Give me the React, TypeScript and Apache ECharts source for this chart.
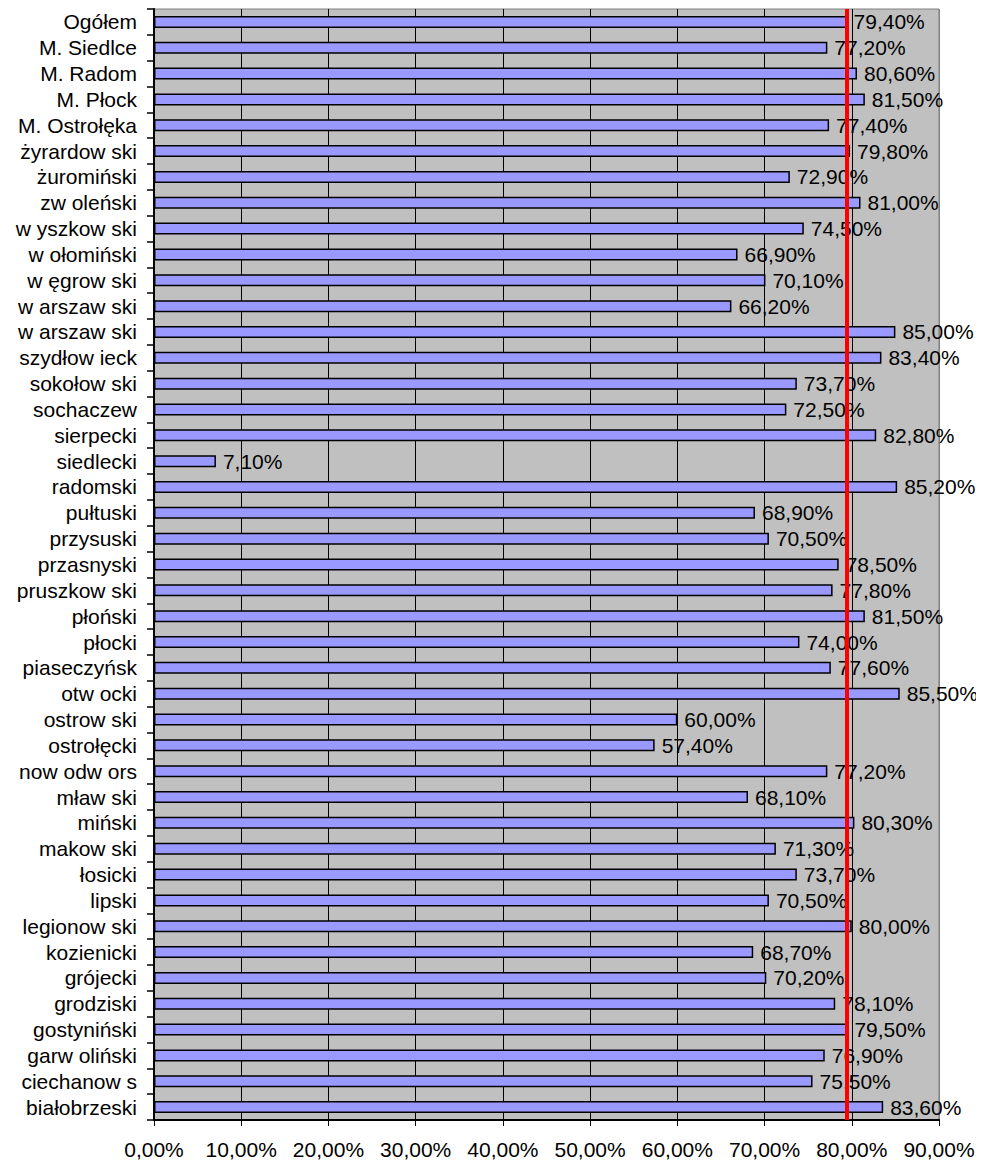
import React, { useEffect, useRef } from "react";
import * as echarts from "echarts";

const categories: string[] = [
  "Ogółem", "M. Siedlce", "M. Radom", "M. Płock", "M. Ostrołęka", "żyrardow ski", "żuromiński",
  "zw oleński", "w yszkow ski", "w ołomiński", "w ęgrow ski", "w arszaw ski", "w arszaw ski",
  "szydłow ieck", "sokołow ski", "sochaczew", "sierpecki", "siedlecki", "radomski", "pułtuski",
  "przysuski", "przasnyski", "pruszkow ski", "płoński", "płocki", "piaseczyńsk", "otw ocki",
  "ostrow ski", "ostrołęcki", "now odw ors", "mław ski", "miński", "makow ski", "łosicki",
  "lipski", "legionow ski", "kozienicki", "grójecki", "grodziski", "gostyniński", "garw oliński",
  "ciechanow s", "białobrzeski",
];

const values: number[] = [
  79.4, 77.2, 80.6, 81.5, 77.4, 79.8, 72.9,
  81.0, 74.5, 66.9, 70.1, 66.2, 85.0,
  83.4, 73.7, 72.5, 82.8, 7.1, 85.2, 68.9,
  70.5, 78.5, 77.8, 81.5, 74.0, 77.6, 85.5,
  60.0, 57.4, 77.2, 68.1, 80.3, 71.3, 73.7,
  70.5, 80.0, 68.7, 70.2, 78.1, 79.5, 76.9,
  75.5, 83.6,
];

const referenceValue = 79.4;

const fmt = (v: number) => v.toFixed(2).replace(".", ",") + "%";

export default function App() {
  const ref = useRef<HTMLDivElement>(null);
  useEffect(() => {
    if (!ref.current) return;
    const chart = echarts.init(ref.current, null, { renderer: "svg" });
    const font = "'Liberation Sans', Arial, sans-serif";
    chart.setOption({
      animation: false,
      textStyle: { fontFamily: font },
      grid: {
        left: 154,
        right: 45,
        top: 9,
        bottom: 44,
        show: true,
        backgroundColor: "#C0C0C0",
        borderColor: "#808080",
        borderWidth: 1,
      },
      xAxis: {
        type: "value",
        min: 0,
        max: 90,
        interval: 10,
        axisLine: { show: true, lineStyle: { color: "#000", width: 2 } },
        axisTick: { show: true, length: 6, lineStyle: { color: "#000" } },
        axisLabel: {
          formatter: (v: number) => fmt(v),
          fontSize: 21,
          color: "#000",
          fontFamily: font,
          margin: 19,
        },
        splitLine: {
          show: true,
          lineStyle: {
            color: ["#000", "#000", "#000", "#000", "#000", "#000", "#000", "#000", "#000", "#808080"],
            width: 1,
          },
        },
      },
      yAxis: {
        type: "category",
        inverse: true,
        data: categories,
        axisLine: { show: true, lineStyle: { color: "#000", width: 2 } },
        axisTick: { show: true, length: 7, lineStyle: { color: "#000", width: 1.5 } },
        axisLabel: {
          fontSize: 21,
          color: "#000",
          fontFamily: font,
          margin: 17,
          interval: 0,
        },
        splitLine: { show: false },
      },
      series: [
        {
          type: "bar",
          data: values,
          barWidth: 12,
          itemStyle: { color: "#9999FF", borderColor: "#000", borderWidth: 1.5 },
          label: {
            show: true,
            position: "right",
            distance: 7,
            fontSize: 21,
            color: "#000",
            fontFamily: font,
            formatter: (p: any) => fmt(p.value),
          },
          markLine: {
            silent: true,
            symbol: ["none", "none"],
            label: { show: false },
            lineStyle: { color: "#FF0000", width: 4, type: "solid", opacity: 1 },
            emphasis: { disabled: true },
            data: [{ xAxis: referenceValue }],
          },
        },
      ],
    });
    return () => chart.dispose();
  }, []);
  return <div ref={ref} style={{ width: 984, height: 1164, marginLeft: -8, marginTop: -8 }} />;
}
